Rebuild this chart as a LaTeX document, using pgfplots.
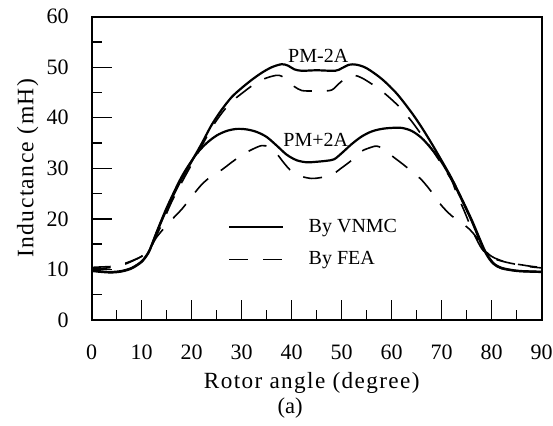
\documentclass[border=0pt]{standalone}
\usepackage{fontspec}
\setmainfont{Liberation Serif}
\newfontfamily\spaced[LetterSpace=6]{Liberation Serif}
\usepackage{pgfplots}
\pgfplotsset{compat=1.18}
\begin{document}
\begin{tikzpicture}
\useasboundingbox (-45.85pt,-53pt) rectangle (230.65pt,160pt);
\begin{axis}[
  scale only axis, width=225pt, height=151.65pt,
  xmin=0, xmax=90, ymin=0, ymax=60,
  xtick={0,10,...,90}, ytick={0,10,...,60},
  minor x tick num=1, minor y tick num=1,
  xtick pos=left, ytick pos=left, tick align=inside,
  major tick length=10pt, minor tick length=5pt,
  tick style={line width=0.7pt, black},
  axis line style={line width=1pt},
  /pgf/number format/assume math mode=true,
  tick label style={font=\fontsize{11}{13}\selectfont},
  xticklabel style={yshift=-8.8pt},
  yticklabel style={xshift=-8pt},
  xlabel={\spaced Rotor angle (degree)},
  ylabel={\spaced Inductance (mH)},
  xlabel style={font=\fontsize{11.6}{13}\selectfont, at={(axis description cs:0.489,-0.206)}, anchor=center},
  ylabel style={font=\fontsize{11.8}{13}\selectfont, at={(axis description cs:-0.142,0.5)}, anchor=center},
  clip=false,
  legend image code/.code={\draw[#1] (0pt,0pt) -- (26.7pt,0pt);},
  legend style={draw=none, fill=none, font=\fontsize{10}{12}\selectfont,
    at={(rel axis cs:0.289,0.36)}, anchor=north west, row sep=4pt,
    /tikz/every odd column/.append style={column sep=10.5pt}},
  legend cell align=left,
]
% PM-2A, VNMC
\addplot[black, line width=1.1pt, smooth, tension=0.5] coordinates {
(0,9.9)(2,9.6)(4,9.5)(6,9.7)(8,10.3)(10,11.6)(11.3,13.3)(12,14.8)(13,17.3)(15,21.9)
(17.5,27.0)(20,31.4)(22,34.9)(24,38.6)(26,41.6)(28,44.1)(30,45.9)(32,47.5)(34,48.9)
(36,50.0)(38,50.6)(39.3,50.3)(40.5,49.6)(42,49.3)(45,49.4)(48.7,49.3)(50,49.8)(51.5,50.5)
(53,50.5)(55,49.8)(58,47.7)(61,44.8)(64,41.0)(66,38.1)(68,34.9)(70,31.5)(72,28.0)
(74,24.0)(76,19.8)(77.5,16.3)(78.5,14.0)(79.5,12.3)(80.5,11.1)(82,10.3)(85,9.75)(88,9.6)(90,9.55)
};
% PM+2A, VNMC
\addplot[black, line width=1.1pt, smooth, tension=0.5, forget plot] coordinates {
(0,9.7)(2,9.5)(4,9.4)(6,9.6)(8,10.2)(10,11.5)(11.3,13.2)(12,14.8)(13,17.4)(15,22.2)
(17.5,27.4)(19,30.0)(21,32.9)(23,35.0)(25,36.5)(27,37.4)(29,37.8)(31,37.7)(33,37.2)
(35,36.2)(37,34.5)(39,32.7)(41,31.6)(43,31.2)(45,31.3)(47,31.5)(48.5,31.8)(50,33.0)
(52,34.8)(54,36.3)(56,37.3)(58,37.8)(60,38.0)(62,38.0)(64,37.4)(66,36.0)(68,33.8)
(70,31.2)(72,27.8)(74,23.8)(76,19.6)(77.5,16.0)(78.5,13.8)(79.5,12.1)(80.5,11.0)(82,10.2)(85,9.7)(88,9.55)(90,9.5)
};
% PM-2A, FEA
\addplot[black, line width=0.8pt, dash pattern=on 9.5pt off 7.5pt, smooth, tension=0.5] coordinates {
(0,10.4)(2,10.5)(4,10.6)(6,11.0)(8,11.7)(10,12.6)(11.5,13.8)(13,16.8)(14.5,20.0)(16,23.4)
(18,27.2)(20,30.8)(22,34.4)(24,38.0)(26,40.9)(28,43.2)(30,44.8)(32,46.3)(34,47.5)(36,48.2)
(37.5,48.4)(39,47.6)(40.5,46.2)(42,45.4)(44,45.3)(46,45.3)(48,45.5)(49.5,46.8)(51,48.0)
(52.5,48.4)(54,47.9)(56,46.7)(58,45.3)(60,43.6)(62,41.7)(64,39.3)(66,36.6)(68,33.8)
(70,30.8)(72,27.6)(73,25.0)(74.5,21.6)(76,18.0)(77.7,14.6)(79,13.0)(80.5,12.1)(83,11.4)(86,10.8)(88,10.5)(90,10.3)
};
% PM+2A, FEA
\addplot[black, line width=0.8pt, dash pattern=on 9.5pt off 7.5pt, smooth, tension=0.5, forget plot] coordinates {
(0,10.1)(2,10.2)(4,10.4)(6,10.8)(8,11.6)(10,12.6)(11.5,13.9)(13,16.4)(15.5,19.3)(18,21.9)
(20,24.4)(22,26.8)(24,28.5)(26,29.7)(28,31.2)(30,32.6)(32,33.7)(34,34.5)(35.5,34.2)
(37,32.9)(38.5,31.0)(40,29.4)(42,28.4)(44,28.0)(46,28.2)(48,28.7)(50,30.1)(52,31.6)
(54,33.4)(56,34.2)(57,34.4)(58,34.0)(60,32.5)(62,31.0)(64,29.4)(66,27.7)(68,25.3)
(70,22.6)(72,20.6)(74,19.2)(75.5,18.0)(77,16.3)(78.3,14.3)(79.3,13.1)(80.5,12.3)(83,11.4)(86,10.9)(88,10.6)(90,10.4)
};
\legend{By VNMC, By FEA}
\node[font=\fontsize{10}{12}\selectfont] at (axis cs:45.3,52.2) {PM-2A};
\node[font=\fontsize{10}{12}\selectfont] at (axis cs:44.8,35.6) {PM+2A};
\node[font=\fontsize{11.3}{13}\selectfont] at (rel axis cs:0.441,-0.289) {(a)};
\end{axis}
\end{tikzpicture}
\end{document}
